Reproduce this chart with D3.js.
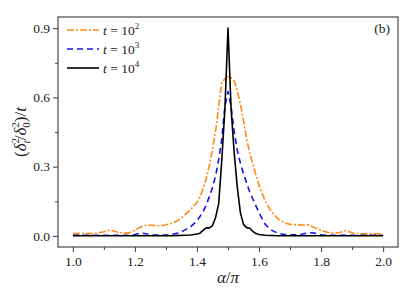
<!DOCTYPE html>
<html>
<head>
<meta charset="utf-8">
<script src="https://cdn.jsdelivr.net/npm/d3@7"></script>
<style>
    body { margin: 0; background: #fff; }
    svg text { font-family: "Liberation Serif", "Times New Roman", serif; fill: #222; }
</style>
</head>
<body>
<div id="chart"></div>
<script>
// alpha / pi sampling (finer around the peak)
const alpha = [
    1.00, 1.02, 1.04, 1.06, 1.08, 1.10, 1.12, 1.14, 1.16, 1.18,
    1.20, 1.22, 1.24, 1.26, 1.28, 1.30, 1.32, 1.34, 1.36, 1.38,
    1.40, 1.41, 1.42, 1.43, 1.44, 1.45, 1.46, 1.47, 1.48, 1.49,
    1.50, 1.51, 1.52, 1.53, 1.54, 1.55, 1.56, 1.57, 1.58, 1.59,
    1.60, 1.62, 1.64, 1.66, 1.68, 1.70, 1.72, 1.74, 1.76, 1.78,
    1.80, 1.82, 1.84, 1.86, 1.88, 1.90, 1.92, 1.94, 1.96, 1.98, 2.00
];
const t1e2 = [
    0.010, 0.010, 0.010, 0.010, 0.012, 0.018, 0.025, 0.018, 0.012, 0.013,
    0.025, 0.040, 0.048, 0.045, 0.043, 0.048, 0.055, 0.068, 0.090, 0.115,
    0.145, 0.170, 0.205, 0.250, 0.305, 0.375, 0.455, 0.560, 0.665, 0.680,
    0.690, 0.685, 0.670, 0.630, 0.570, 0.500, 0.420, 0.360, 0.310, 0.265,
    0.220, 0.150, 0.105, 0.075, 0.058, 0.050, 0.048, 0.047, 0.048, 0.035,
    0.024, 0.016, 0.012, 0.015, 0.023, 0.014, 0.009, 0.009, 0.009, 0.009, 0.009
];
const t1e3 = [
    0.003, 0.003, 0.003, 0.003, 0.003, 0.003, 0.003, 0.003, 0.003, 0.004,
    0.006, 0.013, 0.008, 0.004, 0.004, 0.004, 0.007, 0.012, 0.025, 0.040,
    0.065, 0.085, 0.105, 0.135, 0.170, 0.210, 0.260, 0.330, 0.420, 0.560,
    0.625, 0.560, 0.450, 0.370, 0.315, 0.270, 0.230, 0.190, 0.160, 0.130,
    0.100, 0.050, 0.025, 0.012, 0.006, 0.005, 0.005, 0.008, 0.014, 0.012,
    0.004, 0.003, 0.003, 0.003, 0.003, 0.003, 0.003, 0.003, 0.003, 0.003, 0.003
];
const t1e4 = [
    0.001, 0.001, 0.001, 0.001, 0.001, 0.001, 0.001, 0.001, 0.001, 0.001,
    0.001, 0.001, 0.001, 0.001, 0.001, 0.001, 0.001, 0.002, 0.003, 0.004,
    0.008, 0.012, 0.025, 0.035, 0.035, 0.045, 0.080, 0.140, 0.330, 0.550,
    0.900, 0.550, 0.360, 0.210, 0.100, 0.050, 0.036, 0.033, 0.020, 0.010,
    0.006, 0.003, 0.002, 0.001, 0.001, 0.001, 0.001, 0.001, 0.001, 0.001,
    0.001, 0.001, 0.001, 0.001, 0.001, 0.001, 0.001, 0.001, 0.001, 0.001, 0.001
];
const xTicks = [1.0, 1.2, 1.4, 1.6, 1.8, 2.0];
const xMinor = [1.1, 1.3, 1.5, 1.7, 1.9];
const yTicks = [0.0, 0.3, 0.6, 0.9];
const yMinor = [0.15, 0.45, 0.75];
const legendExp = ['2', '3', '4'];

const width = 415;
const height = 294;
const serif = '"Liberation Serif", "Times New Roman", serif';

const series = [
    { values: t1e2, color: '#ff8c1a', dash: '7,2,2,2', exp: legendExp[0] },
    { values: t1e3, color: '#1414f0', dash: '6,4', exp: legendExp[1] },
    { values: t1e4, color: '#000000', dash: null, exp: legendExp[2] },
];

const x = d3.scaleLinear().domain([0.952, 2.048]).range([58, 398]);
const y = d3.scaleLinear().domain([-0.048, 0.948]).range([247, 17]);

const svg = d3.select('#chart')
    .append('svg')
    .attr('width', width)
    .attr('height', height)
    .attr('font-family', serif);

// frame
svg.append('rect')
    .attr('x', x.range()[0])
    .attr('y', y.range()[1])
    .attr('width', x.range()[1] - x.range()[0])
    .attr('height', y.range()[0] - y.range()[1])
    .attr('fill', 'none')
    .attr('stroke', '#4a4a4a')
    .attr('stroke-width', 1.2);

const fmt = d3.format('.1f');

svg.append('g')
    .attr('transform', `translate(0,${y.range()[0]})`)
    .call(d3.axisBottom(x).tickValues(xTicks).tickFormat(fmt).tickSize(5).tickPadding(4));
svg.append('g')
    .attr('transform', `translate(0,${y.range()[0]})`)
    .call(d3.axisBottom(x).tickValues(xMinor).tickFormat('').tickSize(3));

svg.append('g')
    .attr('transform', `translate(${x.range()[0]},0)`)
    .call(d3.axisLeft(y).tickValues(yTicks).tickFormat(fmt).tickSize(5).tickPadding(3));
svg.append('g')
    .attr('transform', `translate(${x.range()[0]},0)`)
    .call(d3.axisLeft(y).tickValues(yMinor).tickFormat('').tickSize(3));

svg.selectAll('g').attr('font-family', serif);
svg.selectAll('.domain').remove();
svg.selectAll('.tick line').attr('stroke', '#4a4a4a').attr('stroke-width', 1.1);
svg.selectAll('.tick text')
    .attr('font-size', 13.5)
    .attr('fill', '#222');

// lines
const line = d3.line()
    .x((d, i) => x(alpha[i]))
    .y(d => y(d));

series.forEach(s => {
    svg.append('path')
        .datum(s.values)
        .attr('d', line)
        .attr('fill', 'none')
        .attr('stroke', s.color)
        .attr('stroke-width', 1.6)
        .attr('stroke-linejoin', 'round')
        .attr('stroke-dasharray', s.dash);
});

// legend
const legend = svg.append('g');
series.forEach((s, i) => {
    const ly = 30 + i * 19;
    legend.append('line')
        .attr('x1', 67).attr('x2', 99)
        .attr('y1', ly).attr('y2', ly)
        .attr('stroke', s.color)
        .attr('stroke-width', 1.6)
        .attr('stroke-dasharray', s.dash);
    const txt = legend.append('text')
        .attr('x', 103)
        .attr('y', ly + 4.5)
        .attr('font-size', 13.5);
    txt.append('tspan').attr('font-style', 'italic').text('t');
    txt.append('tspan').text(' = 10');
    txt.append('tspan').attr('font-size', 9).attr('dy', -5.5).text(s.exp);
});

// panel label
svg.append('text')
    .attr('x', 390)
    .attr('y', 33)
    .attr('text-anchor', 'end')
    .attr('font-size', 13.5)
    .text('(b)');

// axis titles
const xt = svg.append('text')
    .attr('x', x(1.5))
    .attr('y', 283)
    .attr('text-anchor', 'middle')
    .attr('font-size', 17);
xt.append('tspan').attr('font-style', 'italic').text('α');
xt.append('tspan').text('/');
xt.append('tspan').attr('font-style', 'italic').text('π');

const yt = svg.append('text')
    .attr('transform', `translate(26,${(y.range()[0] + y.range()[1]) / 2}) rotate(-90)`)
    .attr('text-anchor', 'middle')
    .attr('font-size', 17);
yt.append('tspan').text('(');
yt.append('tspan').attr('font-style', 'italic').text('δ');
yt.append('tspan').attr('font-size', 11).attr('dy', -7).text('2');
yt.append('tspan').attr('font-size', 11).attr('font-style', 'italic').attr('dx', -5.5).attr('dy', 11).text('t');
yt.append('tspan').attr('dy', -4).text('/');
yt.append('tspan').attr('font-style', 'italic').text('δ');
yt.append('tspan').attr('font-size', 11).attr('dy', -7).text('2');
yt.append('tspan').attr('font-size', 11).attr('dx', -5.5).attr('dy', 11).text('0');
yt.append('tspan').attr('dy', -4).text(')/');
yt.append('tspan').attr('font-style', 'italic').text('t');
</script>
</body>
</html>
